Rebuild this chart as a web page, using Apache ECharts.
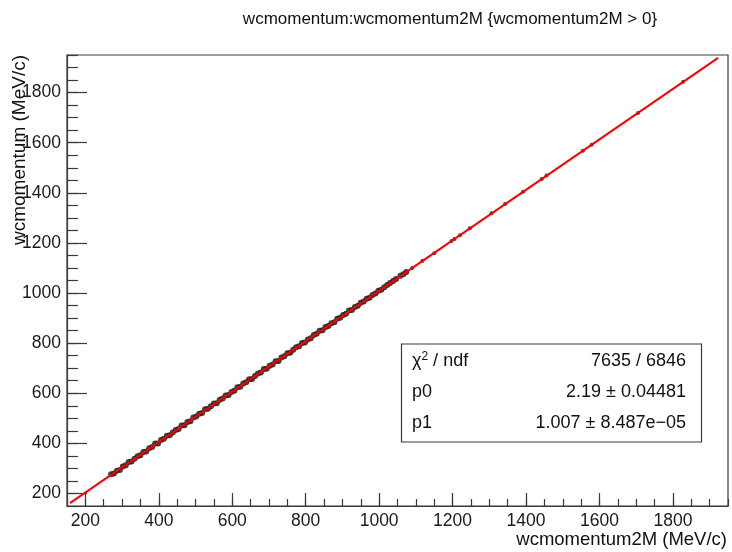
<!DOCTYPE html>
<html>
<head>
<meta charset="utf-8">
<script src="https://cdn.jsdelivr.net/npm/echarts@6/dist/echarts.min.js"></script>
<style>
  html, body { margin: 0; padding: 0; background: #fff; }
  #chart { width: 732px; height: 552px; }
</style>
</head>
<body>
<div id="chart"></div>
<script>
  // axis ranges and tick labels
  var axisMin = 150;
  var axisMax = 1950;
  var majorTicks = [200, 400, 600, 800, 1000, 1200, 1400, 1600, 1800];
  var minorTicks = [];
  for (var t = 150; t <= 1950; t += 50) minorTicks.push(t);

  // wcmomentum2M (x) vs wcmomentum (y)
  var densePoints = [
    [270, 277], [278, 280], [286, 291], [294, 294], [302, 308], [310, 313], [318, 326], [326, 328],
    [334, 339], [342, 349], [350, 353], [358, 366], [366, 368], [374, 380], [382, 385], [390, 399],
    [398, 399], [406, 413], [414, 418], [422, 430], [430, 432], [438, 443], [446, 453], [454, 457],
    [462, 471], [470, 472], [478, 485], [486, 488], [494, 503], [502, 507], [510, 518], [518, 521],
    [526, 536], [534, 538], [542, 548], [550, 559], [558, 560], [566, 574], [574, 579], [582, 591],
    [590, 593], [598, 605], [606, 610], [614, 624], [622, 626], [630, 639], [638, 644], [646, 656],
    [654, 657], [662, 669], [670, 679], [678, 683], [686, 697], [694, 698], [702, 710], [710, 715],
    [718, 728], [726, 729], [734, 743], [742, 748], [750, 760], [758, 762], [766, 774], [774, 784],
    [782, 788], [790, 801], [798, 803], [806, 815], [814, 820], [822, 832], [830, 837], [838, 849],
    [846, 851], [854, 864], [862, 868], [870, 879], [878, 883], [886, 897], [894, 901], [902, 912],
    [910, 917], [918, 930], [926, 932], [934, 944], [942, 949], [950, 961], [958, 966], [966, 977],
    [974, 981], [982, 992], [990, 998], [998, 1009], [1006, 1013], [1014, 1023], [1022, 1032],
    [1030, 1040], [1038, 1048], [1046, 1056], [1058, 1069], [1066, 1075], [1074, 1084]
  ];
  var sparsePoints = [
    [1090, 1100], [1118, 1129], [1150, 1159],
    [1197, 1208], [1205, 1216], [1220, 1231], [1247, 1259], [1306, 1318], [1343, 1355],
    [1392, 1404], [1443, 1455], [1456, 1469], [1555, 1568], [1579, 1592], [1705, 1719], [1828, 1843]
  ];

  // pol1 fit: p0 = 2.19, p1 = 1.007, drawn over its range
  var fitLine = [[158, 161.3], [1923, 1938.7]];

  var statsRows = [
    ['χ{sup|2} / ndf', '7635 / 6846'],
    ['p0', '2.19 ± 0.04481'],
    ['p1', '1.007 ± 8.487e−05']
  ];

  var font = 'Liberation Sans, Arial, Helvetica, sans-serif';
  var axisColor = '#3a3a3a';

  var myChart = echarts.init(document.getElementById('chart'));

  function makeAxis(pos, ticks, len, labels, line) {
    return {
      type: 'value',
      position: pos,
      min: axisMin,
      max: axisMax,
      splitLine: { show: false },
      axisLine: { show: line, onZero: false, lineStyle: { color: axisColor, width: 1.2 } },
      axisTick: { show: true, inside: true, length: len, customValues: ticks, lineStyle: { color: axisColor, width: 1.2 } },
      axisLabel: {
        show: labels,
        customValues: ticks,
        formatter: function (v) { return String(v); },
        color: '#1a1a1a',
        fontFamily: font,
        fontSize: 17.5,
        margin: 6
      }
    };
  }

  var statsGraphic = [{
    type: 'rect',
    shape: { x: 401.5, y: 344, width: 300, height: 98 },
    style: { fill: '#fff', stroke: '#3a3a3a', lineWidth: 1.2 },
    z: 100
  }];
  statsRows.forEach(function (row, i) {
    var y = 361 + i * 31;
    statsGraphic.push({
      type: 'text', z: 101, x: 412, y: y,
      style: {
        text: row[0], fill: '#111', font: '18px ' + font, verticalAlign: 'middle',
        rich: { sup: { fontSize: 12, verticalAlign: 'top', padding: [0, 0, 8, 0], fill: '#111', fontFamily: font } }
      }
    });
    statsGraphic.push({
      type: 'text', z: 101, x: 686, y: y,
      style: { text: row[1], fill: '#111', font: '18px ' + font, align: 'right', verticalAlign: 'middle' }
    });
  });

  var option = {
    animation: false,
    backgroundColor: '#fff',
    grid: {
      left: 67, right: 4, top: 55, bottom: 46,
      show: true, borderColor: axisColor, borderWidth: 1.2, backgroundColor: 'transparent'
    },
    xAxis: [
      makeAxis('bottom', majorTicks, 13, true, true),
      makeAxis('bottom', minorTicks, 7, false, false)
    ],
    yAxis: [
      makeAxis('left', majorTicks, 20, true, true),
      makeAxis('left', minorTicks, 11, false, false)
    ],
    graphic: [
      {
        type: 'text', x: 450, y: 19,
        style: { text: 'wcmomentum:wcmomentum2M {wcmomentum2M > 0}', fill: '#111', font: '17px ' + font, align: 'center', verticalAlign: 'middle' }
      },
      {
        type: 'text', right: 5, top: 530,
        style: { text: 'wcmomentum2M (MeV/c)', fill: '#111', font: '18.5px ' + font }
      },
      {
        type: 'text', x: 10, y: 55, rotation: Math.PI / 2,
        style: { text: 'wcmomentum (MeV/c)', fill: '#111', font: '19px ' + font, align: 'right', verticalAlign: 'top' }
      }
    ].concat(statsGraphic),
    series: [
      {
        name: 'points',
        type: 'scatter',
        data: densePoints,
        symbol: 'circle',
        symbolSize: 6,
        itemStyle: { color: '#111' },
        z: 2
      },
      {
        name: 'points (tail)',
        type: 'scatter',
        data: sparsePoints,
        symbol: 'circle',
        symbolSize: 4,
        itemStyle: { color: '#111' },
        z: 2
      },
      {
        name: 'fit',
        type: 'line',
        data: fitLine,
        showSymbol: false,
        symbol: 'none',
        lineStyle: { color: '#ff0000', width: 2 },
        z: 3
      }
    ]
  };
  myChart.setOption(option);
</script>
</body>
</html>
